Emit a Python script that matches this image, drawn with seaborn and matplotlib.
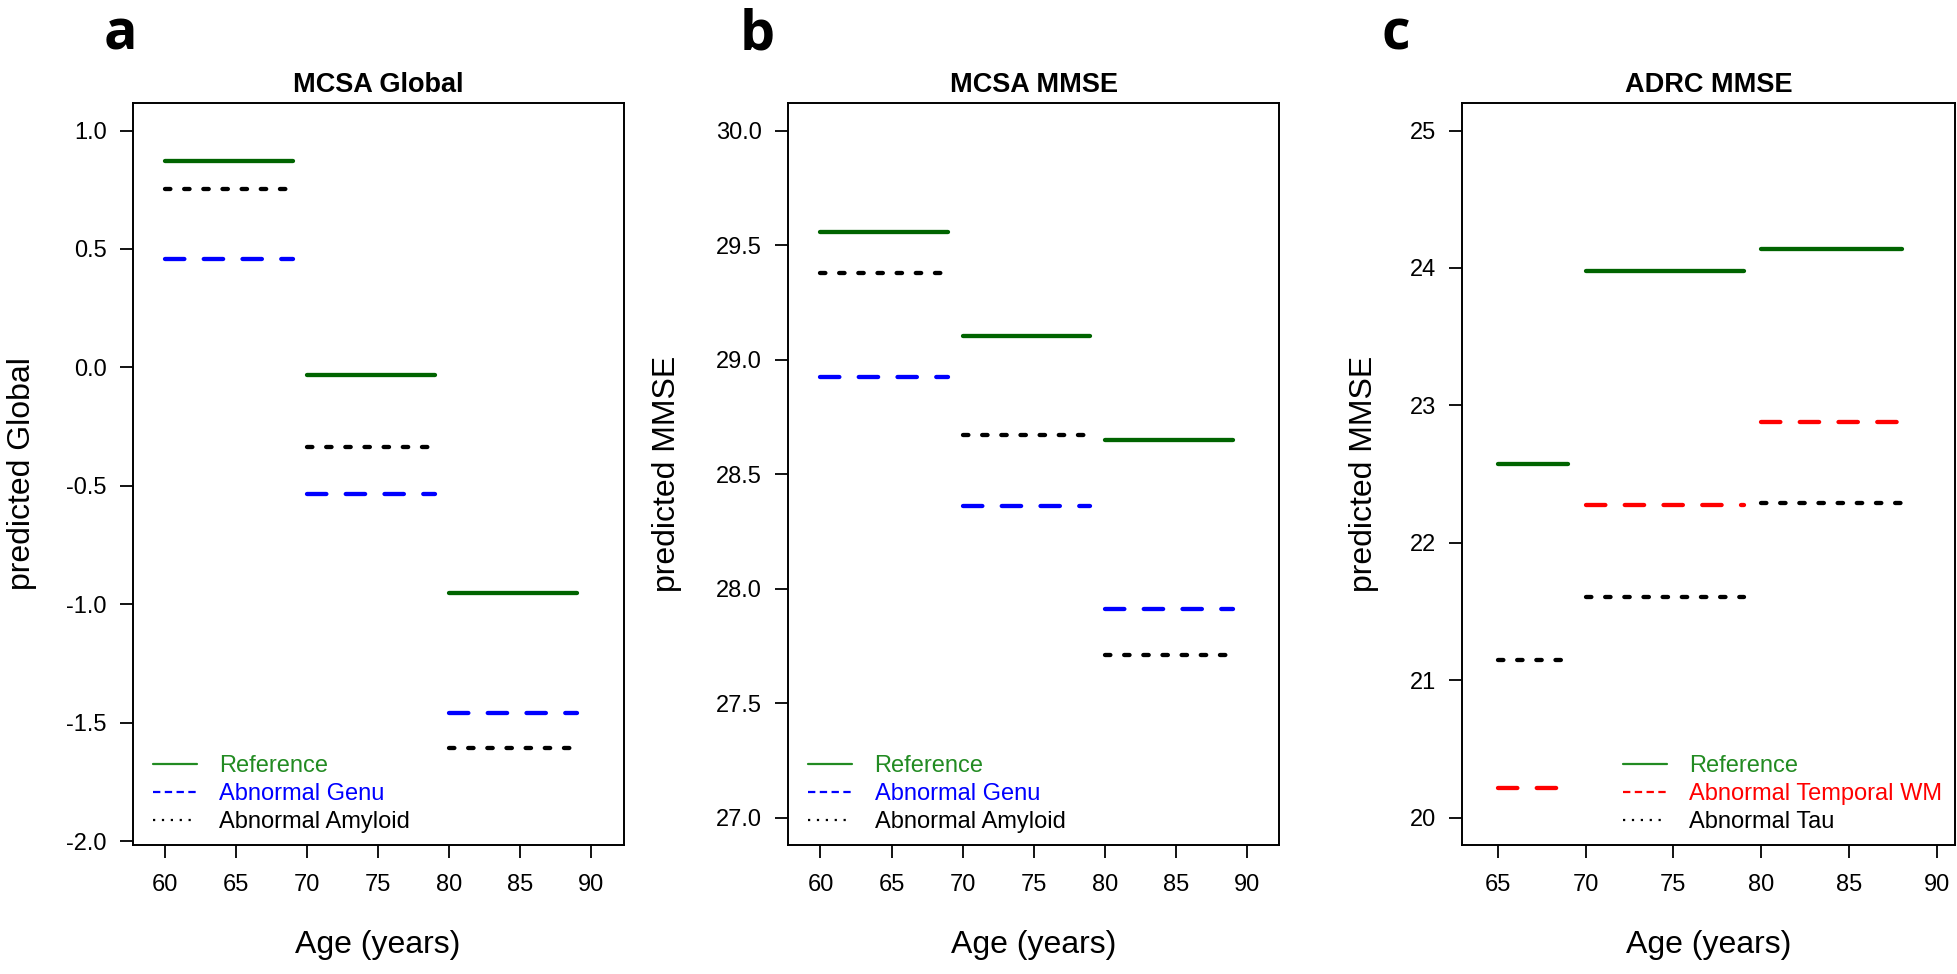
import numpy as np
import pandas as pd
import matplotlib
matplotlib.use("Agg")
import matplotlib.pyplot as plt
import seaborn as sns
from matplotlib.lines import Line2D

# age bins (start / end of each horizontal segment)
mcsa_start = [60, 70, 80]
mcsa_end = [69, 79, 89]
adrc_start = [65, 70, 80]
adrc_end = [69, 79, 88]

# a: MCSA Global
global_ref = [0.872, -0.034, -0.952]
global_genu = [0.457, -0.536, -1.458]
global_amyloid = [0.752, -0.335, -1.607]

# b: MCSA MMSE
mmse_ref = [29.558, 29.104, 28.649]
mmse_genu = [28.925, 28.362, 27.910]
mmse_amyloid = [29.380, 28.671, 27.709]

# c: ADRC MMSE
adrc_ref = [22.571, 23.975, 24.138]
adrc_temporal = [20.214, 22.277, 22.882]
adrc_tau = [21.148, 21.605, 22.288]

sns.set_style("ticks")
plt.rcParams["font.family"] = ["Liberation Sans", "DejaVu Sans"]
plt.rcParams["text.color"] = "black"
plt.rcParams["axes.labelcolor"] = "black"
plt.rcParams["xtick.color"] = "black"
plt.rcParams["ytick.color"] = "black"
plt.rcParams["axes.edgecolor"] = "black"

GREEN = "#006400"
GREEN_TXT = "#228B22"
BLUE = "#0000FF"
RED = "#FF0000"
BLACK = "#000000"

SOLID = ""
DASH = (4.5, 4.5)
DOT = (1.25, 3.2)


def segment_frame(starts, ends, series):
    rows = []
    for name, vals in series.items():
        for i, (s, e, v) in enumerate(zip(starts, ends, vals)):
            rows.append({"age": s, "value": v, "group": name, "seg": f"{name}-{i}"})
            rows.append({"age": e, "value": v, "group": name, "seg": f"{name}-{i}"})
    return pd.DataFrame(rows)


panels = [
    dict(letter="a", title="MCSA Global", ylabel="predicted Global",
         starts=mcsa_start, ends=mcsa_end,
         series={"Reference": global_ref, "Abnormal Genu": global_genu,
                 "Abnormal Amyloid": global_amyloid},
         colors={"Reference": GREEN, "Abnormal Genu": BLUE, "Abnormal Amyloid": BLACK},
         styles={"Reference": SOLID, "Abnormal Genu": DASH, "Abnormal Amyloid": DOT},
         xlim=(57.72, 92.28), xticks=np.arange(60, 91, 5),
         ylim=(-2.016, 1.116), yticks=np.arange(-2.0, 1.01, 0.5), yfmt="{:.1f}",
         pos=[0.0677, 0.1324, 0.2508, 0.7618], ylab_x=-0.195, leg_x=0.0415,
         letter_x=0.0613),
    dict(letter="b", title="MCSA MMSE", ylabel="predicted MMSE",
         starts=mcsa_start, ends=mcsa_end,
         series={"Reference": mmse_ref, "Abnormal Genu": mmse_genu,
                 "Abnormal Amyloid": mmse_amyloid},
         colors={"Reference": GREEN, "Abnormal Genu": BLUE, "Abnormal Amyloid": BLACK},
         styles={"Reference": SOLID, "Abnormal Genu": DASH, "Abnormal Amyloid": DOT},
         xlim=(57.72, 92.28), xticks=np.arange(60, 91, 5),
         ylim=(26.88, 30.12), yticks=np.arange(27.0, 30.01, 0.5), yfmt="{:.1f}",
         pos=[0.4025, 0.1324, 0.2508, 0.7618], ylab_x=-0.217, leg_x=0.0415,
         letter_x=0.3866),
    dict(letter="c", title="ADRC MMSE", ylabel="predicted MMSE",
         starts=adrc_start, ends=adrc_end,
         series={"Reference": adrc_ref, "Abnormal Temporal WM": adrc_temporal,
                 "Abnormal Tau": adrc_tau},
         colors={"Reference": GREEN, "Abnormal Temporal WM": RED, "Abnormal Tau": BLACK},
         styles={"Reference": SOLID, "Abnormal Temporal WM": DASH, "Abnormal Tau": DOT},
         xlim=(62.96, 91.04), xticks=np.arange(65, 91, 5),
         ylim=(19.8, 25.2), yticks=np.arange(20, 26, 1), yfmt="{:.0f}",
         pos=[0.7467, 0.1324, 0.2518, 0.7618], ylab_x=-0.169, leg_x=0.3266,
         letter_x=0.713),
]

fig = plt.figure(figsize=(19.58, 9.74), dpi=100)

for p in panels:
    ax = fig.add_axes(p["pos"])
    df = segment_frame(p["starts"], p["ends"], p["series"])
    sns.lineplot(data=df, x="age", y="value", hue="group", style="group",
                 units="seg", estimator=None, sort=False,
                 palette=p["colors"], dashes=p["styles"], linewidth=3.1,
                 solid_capstyle="round", dash_capstyle="round",
                 legend=False, ax=ax)

    ax.set_xlim(p["xlim"])
    ax.set_ylim(p["ylim"])
    ax.set_xticks(p["xticks"])
    ax.set_xticklabels([str(int(t)) for t in p["xticks"]])
    ax.set_yticks(p["yticks"])
    ax.set_yticklabels([p["yfmt"].format(t) for t in p["yticks"]])
    ax.tick_params(axis="both", direction="out", length=9.7, width=1.3,
                   labelsize=17, color="black", labelcolor="black")
    ax.tick_params(axis="y", pad=9)
    ax.tick_params(axis="x", pad=11)
    for sp in ax.spines.values():
        sp.set_visible(True)
        sp.set_linewidth(1.4)
        sp.set_color("black")

    ax.set_title(p["title"], fontsize=19.5, fontweight="bold", pad=8, color="black")
    ax.set_xlabel("Age (years)", fontsize=23)
    ax.xaxis.set_label_coords(0.5, -0.115)
    ax.set_ylabel(p["ylabel"], fontsize=23)
    ax.yaxis.set_label_coords(p["ylab_x"], 0.5)

    # legend
    names = list(p["series"].keys())
    leg_colors = [GREEN_TXT, p["colors"][names[1]], BLACK]
    handles = [
        Line2D([], [], color=leg_colors[0], lw=1.6),
        Line2D([], [], color=leg_colors[1], lw=1.6, dashes=(3.3, 2.0)),
        Line2D([], [], color=leg_colors[2], lw=1.6, dashes=(1.0, 3.0)),
    ]
    ax.legend(handles, names, loc="lower left", bbox_to_anchor=(p["leg_x"], 0.016),
              frameon=False, borderpad=0, borderaxespad=0, handlelength=1.85,
              handletextpad=0.95, labelspacing=0.25, fontsize=17,
              labelcolor=leg_colors)

    fig.text(p["letter_x"], 0.9487, p["letter"], fontsize=40, fontweight="bold",
             family=["Open Sans", "DejaVu Sans"], ha="center", va="baseline",
             color="black")

fig.savefig("out.png", dpi=100)
